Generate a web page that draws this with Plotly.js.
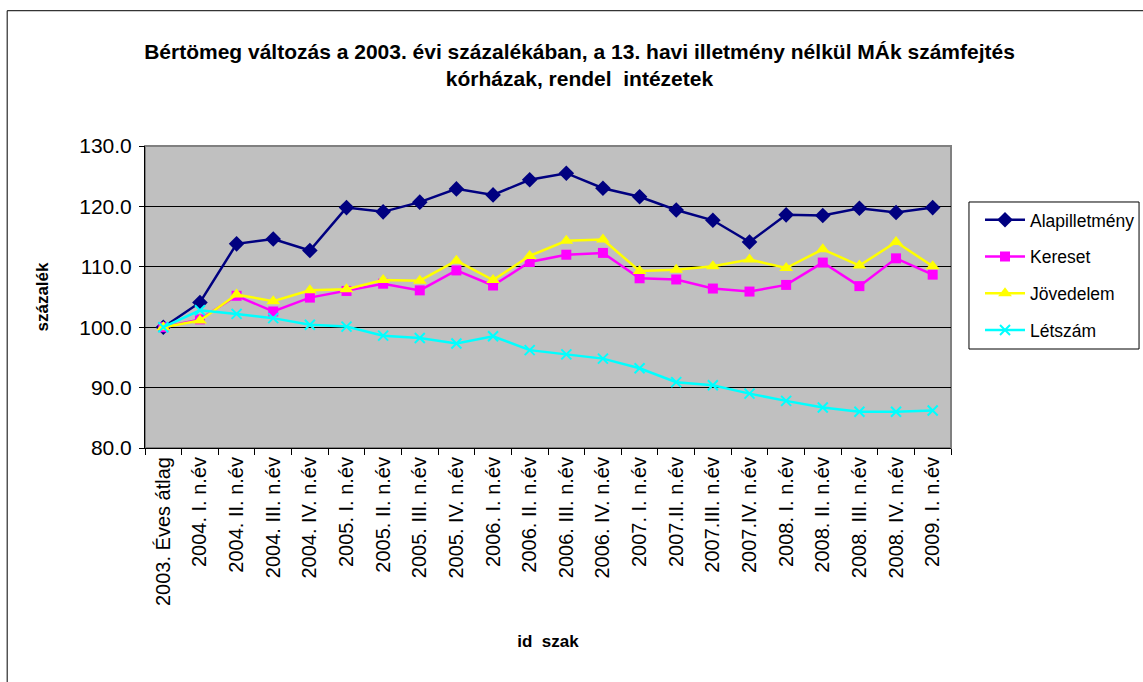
<!DOCTYPE html>
<html>
<head>
<meta charset="utf-8">
<script src="https://cdn.plot.ly/plotly-3.0.1.min.js"></script>
<style>html,body{margin:0;padding:0;background:#fff;}#chart{width:1143px;height:682px;}</style>
</head>
<body>
<div id="chart"></div>
<script>
const categories = ["2003. Éves átlag","2004. I. n.év","2004. II. n.év","2004. III. n.év","2004. IV. n.év","2005. I. n.év","2005. II. n.év","2005. III. n.év","2005. IV. n.év","2006. I. n.év","2006. II. n.év","2006. III. n.év","2006. IV. n.év","2007. I. n.év","2007.II. n.év","2007.III. n.év","2007.IV. n.év","2008. I. n.év","2008. II. n.év","2008. III. n.év","2008. IV. n.év","2009. I. n.év"];
const alapilletmeny = [100.0,104.1,113.8,114.6,112.7,119.8,119.1,120.7,122.9,121.9,124.4,125.5,123.0,121.6,119.4,117.7,114.1,118.6,118.5,119.7,119.0,119.8];
const kereset = [100.0,101.3,105.2,102.6,104.9,106.0,107.2,106.1,109.4,106.9,110.8,112.0,112.3,108.1,107.9,106.4,105.9,107.0,110.7,106.8,111.4,108.7];
const jovedelem = [100.0,101.1,105.4,104.3,106.1,106.3,107.8,107.7,111.0,107.8,111.8,114.3,114.5,109.3,109.5,110.1,111.2,109.8,112.9,110.2,114.1,110.1];
const letszam = [100.0,102.8,102.2,101.5,100.4,100.1,98.6,98.2,97.3,98.5,96.2,95.5,94.8,93.2,90.9,90.4,89.0,87.8,86.7,86.0,86.0,86.2];
const seriesNames = ["Alapilletmény","Kereset","Jövedelem","Létszám"];

const FONT = "Arial, 'Liberation Sans', sans-serif";

const traces = [
  {x: categories, y: alapilletmeny, name: seriesNames[0], legendgroup: "a", type: "scatter", mode: "lines+markers",
   line: {color: "#000080", width: 2.5}, marker: {symbol: "diamond", size: 12, color: "#000080"}},
  {x: categories, y: kereset, name: seriesNames[1], legendgroup: "b", type: "scatter", mode: "lines+markers",
   line: {color: "#FF00FF", width: 2.5}, marker: {symbol: "square", size: 10, color: "#FF00FF"}},
  {x: categories, y: jovedelem, name: seriesNames[2], legendgroup: "c", type: "scatter", mode: "lines+markers",
   line: {color: "#FFFF00", width: 2.5}, marker: {symbol: "triangle-up", size: 12, color: "#FFFF00"}},
  {x: categories, y: letszam, name: seriesNames[3], legendgroup: "d", type: "scatter", mode: "lines+markers",
   line: {color: "#00FFFF", width: 2.5}, marker: {symbol: "x-thin-open", size: 10, color: "#00FFFF", line: {color: "#00FFFF", width: 2}}}
];

const layout = {
  width: 1143, height: 682,
  margin: {l: 145, r: 192, t: 146, b: 234, autoexpand: false},
  paper_bgcolor: "#ffffff",
  plot_bgcolor: "#c0c0c0",
  font: {family: FONT, color: "#000"},
  title: {
    text: "<b>Bértömeg változás a 2003. évi százalékában, a 13. havi illetmény nélkül MÁk számfejtés<br>kórházak, rendel\u00a0 intézetek</b>",
    font: {family: FONT, size: 21, color: "#000"},
    x: 0.507, xanchor: "center", yref: "container", y: 0.914, yanchor: "top"
  },
  xaxis: {
    type: "category",
    tickangle: -90,
    tickfont: {family: FONT, size: 20},
    ticks: "outside", ticklen: 6, tickcolor: "#000", tickson: "boundaries",
    showline: true, linecolor: "#000", linewidth: 1,
    showgrid: false, zeroline: false,
    range: [-0.5, 21.5],
    automargin: false,
    title: {text: "<b>id\u00a0 szak</b>", font: {family: FONT, size: 17}, standoff: 30}
  },
  yaxis: {
    range: [80, 130], dtick: 10, tick0: 80, tickformat: ".1f",
    tickfont: {family: FONT, size: 21},
    ticks: "outside", ticklen: 5, tickcolor: "#000", ticklabelstandoff: 3,
    showline: true, linecolor: "#000", linewidth: 1,
    showgrid: true, gridcolor: "#000", gridwidth: 1, zeroline: false,
    automargin: false,
    title: {text: "<b>százalék</b>", font: {family: FONT, size: 17}, standoff: 26}
  },
  legend: {
    xref: "container", yref: "paper",
    x: 0.8574, xanchor: "left", y: 0.815, yanchor: "top",
    bgcolor: "rgba(0,0,0,0)", borderwidth: 0,
    font: {family: FONT, size: 17.5, color: "#000"},
    traceorder: "grouped", tracegroupgap: 11, itemwidth: 40
  },
  shapes: [
    {type: "rect", xref: "paper", yref: "paper", x0: 0, x1: 1, y0: 0, y1: 1,
     line: {color: "#808080", width: 2}, fillcolor: "rgba(0,0,0,0)", layer: "between"},
    {type: "rect", xref: "paper", yref: "paper", x0: 1.0223, x1: 1.2333, y0: 0.3278, y1: 0.8146,
     line: {color: "#000", width: 1}, fillcolor: "rgba(0,0,0,0)", layer: "above"},
    {type: "rect", xref: "paper", yref: "paper", x0: -0.171, x1: 1.3, y0: -0.9, y1: 1.448,
     line: {color: "#000", width: 1}, fillcolor: "rgba(0,0,0,0)", layer: "above"}
  ],
  showlegend: true
};

Plotly.newPlot("chart", traces, layout, {displayModeBar: false, staticPlot: true});
</script>
</body>
</html>
